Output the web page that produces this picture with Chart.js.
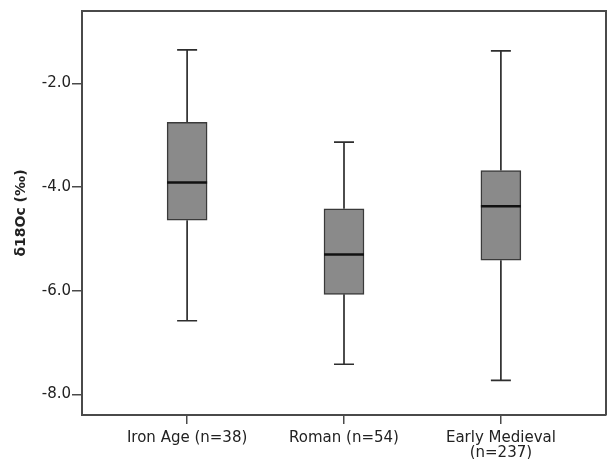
<!DOCTYPE html>
<html><head><meta charset="utf-8">
<script src="https://cdn.jsdelivr.net/npm/chart.js@4.4.1/dist/chart.umd.min.js"></script>
<style>html,body{margin:0;padding:0;background:#fff}#wrap{width:609px;height:459px}</style>
</head><body><div id="wrap"><canvas id="c" width="609" height="459"></canvas></div>
<script>
const categories = ['Iron Age (n=38)', 'Roman (n=54)', ['Early Medieval', '(n=237)']];
const whiskerMin = [-6.58, -7.42, -7.73];
const q1 = [-4.64, -6.07, -5.41];
const median = [-3.91, -5.30, -4.37];
const q3 = [-2.75, -4.42, -3.68];
const whiskerMax = [-1.35, -3.13, -1.37];
const yTicks = [-8, -6, -4, -2];
const yTitle = 'δ18Oc (‰)';

const AXIS = '#4a4a4a';
const FONT = 'DejaVu Sans';

const boxPlugin = {
  id: 'boxplotParts',
  beforeDatasetsDraw(chart) {
    const {ctx, scales: {x, y}} = chart;
    const meta = chart.getDatasetMeta(0);
    ctx.save();
    ctx.strokeStyle = '#2e2e2e';
    ctx.lineWidth = 1.7;
    categories.forEach((c, i) => {
      const cx = x.getPixelForValue(i);
      const half = meta.data[i].width / 4;
      const yMin = y.getPixelForValue(whiskerMin[i]);
      const yMax = y.getPixelForValue(whiskerMax[i]);
      const yQ1 = y.getPixelForValue(q1[i]);
      const yQ3 = y.getPixelForValue(q3[i]);
      ctx.beginPath();
      ctx.moveTo(cx, yQ3); ctx.lineTo(cx, yMax);
      ctx.moveTo(cx - half, yMax); ctx.lineTo(cx + half, yMax);
      ctx.moveTo(cx, yQ1); ctx.lineTo(cx, yMin);
      ctx.moveTo(cx - half, yMin); ctx.lineTo(cx + half, yMin);
      ctx.stroke();
    });
    ctx.restore();
  },
  afterDatasetsDraw(chart) {
    const {ctx, scales: {x, y}} = chart;
    const meta = chart.getDatasetMeta(0);
    ctx.save();
    ctx.strokeStyle = '#111';
    ctx.lineWidth = 2.5;
    categories.forEach((c, i) => {
      const cx = x.getPixelForValue(i);
      const hw = meta.data[i].width / 2;
      const ym = y.getPixelForValue(median[i]);
      ctx.beginPath();
      ctx.moveTo(cx - hw, ym); ctx.lineTo(cx + hw, ym);
      ctx.stroke();
    });
    ctx.restore();
  },
  afterDraw(chart) {
    const {ctx, chartArea: a} = chart;
    ctx.save();
    ctx.strokeStyle = AXIS;
    ctx.lineWidth = 2;
    ctx.beginPath();
    ctx.moveTo(a.left, a.top); ctx.lineTo(a.right, a.top); ctx.lineTo(a.right, a.bottom);
    ctx.stroke();
    ctx.restore();
  }
};

new Chart(document.getElementById('c'), {
  type: 'bar',
  data: {
    datasets: [{
      data: categories.map((c, i) => ({x: i, y: [q1[i], q3[i]]})),
      backgroundColor: '#8a8a8a',
      borderColor: '#3a3a3a',
      borderWidth: 1.5,
      borderSkipped: false,
      barThickness: 40
    }]
  },
  options: {
    responsive: false,
    animation: false,
    layout: {padding: {top: 11, right: 3, left: 0, bottom: 0}},
    plugins: {legend: {display: false}, tooltip: {enabled: false}},
    scales: {
      x: {
        type: 'linear',
        offset: false,
        min: -0.67, max: 2.67,
        afterBuildTicks: s => { s.ticks = categories.map((c, i) => ({value: i})); },
        afterFit: s => { s.height = 44; },
        grid: {display: true, offset: false, drawOnChartArea: false, drawTicks: true, tickLength: 9, color: AXIS, lineWidth: 1.5},
        border: {display: true, color: AXIS, width: 2},
        ticks: {
          callback: v => categories[v],
          color: '#222', padding: 7, maxRotation: 0, autoSkip: false,
          font: {family: FONT, size: 15, lineHeight: 1.0}
        }
      },
      y: {
        type: 'linear',
        min: -8.4, max: -0.6,
        afterBuildTicks: s => { s.ticks = yTicks.map(v => ({value: v})); },
        afterFit: s => { s.width = 82; },
        grid: {display: true, drawOnChartArea: false, drawTicks: true, tickLength: 10, color: AXIS, lineWidth: 1.5},
        border: {display: true, color: AXIS, width: 2},
        ticks: {
          callback: v => v.toFixed(1),
          color: '#222', padding: 1,
          font: {family: FONT, size: 15}
        },
        title: {
          display: true, text: yTitle, color: '#222',
          font: {family: FONT, size: 14, weight: 'bold'},
          padding: {top: 13, bottom: 0}
        }
      }
    }
  },
  plugins: [boxPlugin]
});
</script></body></html>
